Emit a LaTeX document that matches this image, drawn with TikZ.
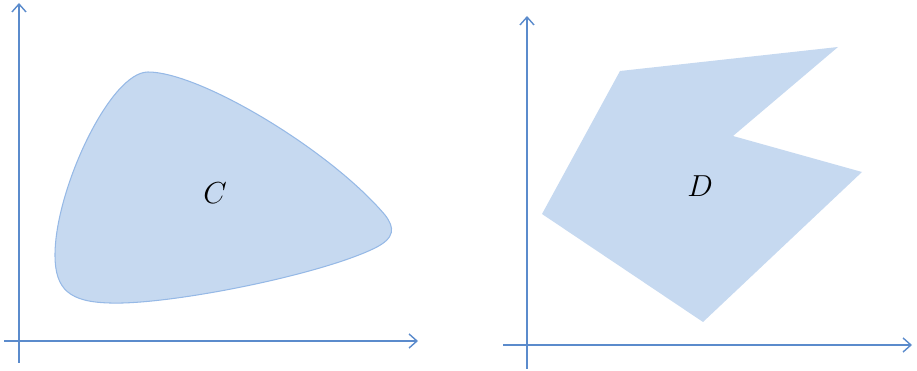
\documentclass[tikz,border=0pt]{standalone}
\usetikzlibrary{arrows.meta}
\definecolor{axisblue}{RGB}{91,139,204}
\definecolor{areablue}{RGB}{198,217,240}
\definecolor{edgeblue}{RGB}{150,185,230}
\begin{document}
\begin{tikzpicture}[x=0.02cm,y=-0.02cm]
    % Define styles for axes and regions
    \tikzstyle{axis} = [draw=axisblue, line width=0.8pt, -{Straight Barb[length=4.5pt,width=8pt]}]
    \tikzstyle{region} = [fill=areablue]
    \tikzstyle{setname} = [font=\fontsize{19}{22}\selectfont]

    \useasboundingbox (0,0) rectangle (917,371);

    % Left axes
    \coordinate (xCstart) at (4,341);
    \coordinate (xCend) at (418,341);
    \coordinate (yCstart) at (19,363);
    \coordinate (yCend) at (19,3);
    \draw[axis] (xCstart) -- (xCend);
    \draw[axis] (yCstart) -- (yCend);

    % Smooth region C
    \path[region, draw=edgeblue, line width=0.6pt]
    (148,72) .. controls (200,72) and (330,150) .. (385,215)
    .. controls (395,228) and (395,238) .. (375,248)
    .. controls (320,275) and (170,305) .. (110,303)
    .. controls (70,302) and (55,290) .. (55,255)
    .. controls (55,190) and (110,72) .. (148,72) -- cycle;
    \node(labelC)[setname] at (215,193) {$C$};

    % Right axes
    \coordinate (xDstart) at (503,345);
    \coordinate (xDend) at (912,345);
    \coordinate (yDstart) at (527,369);
    \coordinate (yDend) at (527,16);
    \draw[axis] (xDstart) -- (xDend);
    \draw[axis] (yDstart) -- (yDend);

    % Polygon region D
    \foreach \name/\px/\py in {d1/620/71,d2/838/47,d3/733/136,d4/862/172,d5/703/322,d6/542/214} {
        \coordinate (\name) at (\px,\py);
      }
    \path[region] (d1) -- (d2) -- (d3) -- (d4) -- (d5) -- (d6) -- cycle;
    \node(labelD)[setname] at (700,186) {$D$};
  \end{tikzpicture}
\end{document}
